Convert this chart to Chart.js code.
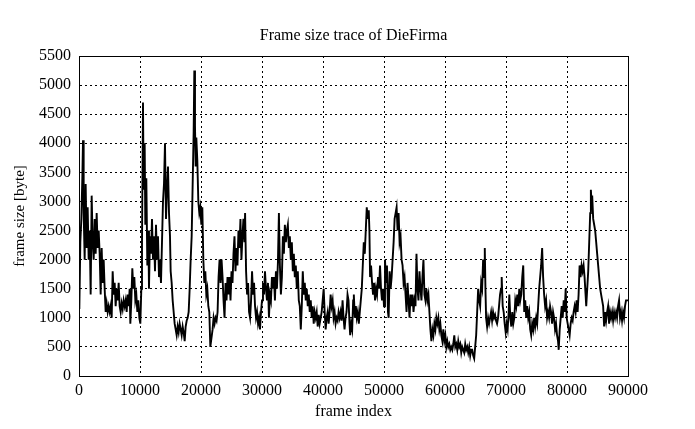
<!DOCTYPE html>
<html>
<head>
<meta charset="utf-8">
<title>Frame size trace of DieFirma</title>
<script src="https://cdn.jsdelivr.net/npm/chart.js@4/dist/chart.umd.min.js"></script>
<style>
  html, body { margin: 0; padding: 0; background: #fff; }
  #traceChart { display: block; }
</style>
</head>
<body>
<canvas id="traceChart" width="695" height="429"></canvas>
<script>
// values (frame index / frame size in byte)
const frameIndex = [
  0, 55, 219, 383, 546, 656, 765, 929, 1093, 1257, 1421, 1585, 1749, 1912, 2076, 2240, 2404, 2568, 2732, 2896,
  3060, 3224, 3388, 3552, 3716, 3879, 4043, 4207, 4371, 4535, 4699, 4863, 5027, 5191, 5355, 5519, 5683, 5847, 6010, 6174,
  6338, 6502, 6666, 6830, 6994, 7158, 7322, 7486, 7650, 7814, 7977, 8141, 8305, 8415, 8579, 8742, 8906, 9070, 9234, 9398,
  9562, 9726, 9890, 10054, 10218, 10327, 10491, 10600, 10764, 10873, 11037, 11201, 11365, 11474, 11638, 11802, 11966, 12130, 12294, 12458,
  12622, 12786, 12950, 13114, 13278, 13441, 13605, 13769, 13933, 14097, 14261, 14425, 14589, 14753, 14917, 15026, 15190, 15354, 15518, 15682,
  15846, 16010, 16173, 16337, 16501, 16665, 16829, 16993, 17157, 17321, 17485, 17649, 17813, 17977, 18141, 18305, 18469, 18633, 18797, 18906,
  19015, 19124, 19233, 19397, 19561, 19725, 19889, 20053, 20217, 20381, 20545, 20708, 20872, 21036, 21200, 21364, 21528, 21902, 22065, 22228,
  22391, 22555, 22718, 22881, 23044, 23207, 23370, 23533, 23696, 23859, 24022, 24185, 24348, 24511, 24674, 24837, 25000, 25163, 25326, 25489,
  25652, 25815, 25978, 26141, 26304, 26467, 26630, 26793, 26957, 27120, 27228, 27391, 27554, 27717, 27880, 28043, 28207, 28370, 28533, 28696,
  28859, 29022, 29185, 29348, 29511, 29674, 29837, 30000, 30163, 30326, 30489, 30652, 30815, 30978, 31141, 31304, 31467, 31630, 31793, 31957,
  32120, 32283, 32446, 32609, 32772, 32935, 33098, 33261, 33424, 33587, 33750, 33913, 34076, 34239, 34402, 34565, 34728, 34891, 35054, 35217,
  35380, 35543, 35707, 35870, 36033, 36196, 36359, 36522, 36685, 36848, 37011, 37174, 37337, 37500, 37663, 37826, 37989, 38152, 38315, 38478,
  38641, 38804, 38967, 39130, 39293, 39457, 39620, 39783, 39946, 40109, 40272, 40435, 40598, 40761, 40924, 41087, 41250, 41413, 41576, 41739,
  41902, 42065, 42228, 42391, 42554, 42717, 42880, 43043, 43207, 43370, 43533, 43696, 43859, 44022, 44185, 44348, 44456, 44619, 44783, 44946,
  45054, 45217, 45380, 45543, 45707, 45870, 46033, 46196, 46359, 46522, 46685, 46848, 47011, 47174, 47337, 47500, 47609, 47717, 47880, 48043,
  48207, 48370, 48533, 48696, 48859, 49022, 49185, 49348, 49511, 49674, 49837, 50000, 50163, 50326, 50489, 50652, 50761, 50924, 51087, 51250,
  51413, 51576, 51739, 51902, 52065, 52228, 52391, 52554, 52717, 52880, 53043, 53207, 53370, 53533, 53696, 53859, 54022, 54185, 54348, 54511,
  54674, 54837, 55000, 55163, 55326, 55489, 55652, 55815, 55978, 56141, 56304, 56467, 56630, 56793, 56957, 57120, 57283, 57446, 57609, 57772,
  57935, 58098, 58261, 58424, 58587, 58750, 58913, 59076, 59239, 59402, 59565, 59728, 59891, 60054, 60217, 60380, 60543, 60707, 60870, 61033,
  61196, 61359, 61522, 61685, 61848, 62011, 62174, 62337, 62500, 62663, 62826, 62989, 63152, 63315, 63478, 63641, 63804, 63967, 64130, 64293,
  64456, 64620, 64783, 64946, 65109, 65272, 65435, 65598, 65761, 65924, 66087, 66250, 66413, 66522, 66630, 66739, 66902, 67065, 67228, 67391,
  67554, 67717, 67880, 68043, 68207, 68370, 68533, 68696, 68859, 69022, 69185, 69293, 69457, 69620, 69783, 69946, 70109, 70272, 70435, 70543,
  70707, 70870, 71033, 71196, 71359, 71522, 71685, 71848, 72011, 72174, 72337, 72500, 72663, 72826, 72989, 73152, 73315, 73478, 73641, 73804,
  73967, 74130, 74293, 74457, 74620, 74783, 74946, 75109, 75272, 75435, 75598, 75761, 75924, 76087, 76250, 76413, 76576, 76739, 76902, 77065,
  77228, 77391, 77554, 77717, 77880, 78043, 78207, 78370, 78533, 78641, 78804, 78967, 79130, 79293, 79457, 79620, 79783, 79946, 80109, 80272,
  80435, 80598, 80761, 80924, 81087, 81250, 81413, 81576, 81739, 81902, 82065, 82228, 82391, 82554, 82717, 82880, 83043, 83152, 83315, 83478,
  83641, 83804, 83913, 84022, 84130, 84293, 84457, 84620, 84783, 84946, 85109, 85272, 85435, 85598, 85761, 85924, 86087, 86250, 86413, 86576,
  86739, 86902, 87065, 87228, 87391, 87554, 87717, 87880, 88043, 88207, 88370, 88533, 88696, 88859, 89022, 89185, 89348, 89511, 89674, 90000
];

const frameSize = [
  1700, 1150, 2300, 2700, 3400, 4050, 2800, 2000, 3300, 2200, 2900, 2000, 2500, 1400, 3100, 2300, 2000, 2700, 2100, 2800,
  2200, 2500, 2100, 1400, 2200, 1600, 2000, 1500, 1100, 1250, 1100, 1200, 1100, 1200, 1000, 1800, 1400, 1600, 1200, 1500,
  1300, 1600, 1200, 1100, 1250, 1150, 1300, 1200, 1300, 1100, 1400, 1200, 1500, 900, 1300, 1850, 1500, 1700, 1300, 1400,
  1100, 1300, 1000, 900, 1500, 2300, 4700, 3200, 4000, 2600, 3400, 1900, 2500, 1500, 2400, 2100, 2700, 2000, 2400, 1800,
  2600, 2000, 2400, 1700, 2000, 1600, 2300, 3000, 3300, 4000, 2700, 3200, 3600, 2800, 2400, 1800, 1600, 1300, 1100, 900,
  800, 700, 850, 750, 900, 800, 700, 850, 750, 600, 850, 950, 1000, 1100, 1500, 2000, 2400, 3300, 4200, 5250,
  4300, 3600, 4100, 3700, 3000, 2800, 2900, 2600, 2900, 2000, 1600, 1800, 1400, 1500, 1200, 1100, 500, 800, 1000, 900,
  1000, 950, 1100, 1700, 2000, 1600, 2000, 1700, 1300, 1000, 1600, 1300, 1700, 1400, 1700, 1300, 1800, 1600, 2100, 2400,
  1800, 2200, 1900, 2500, 2200, 2700, 2000, 2400, 2700, 2300, 2800, 1800, 1400, 1600, 1100, 1000, 1300, 1800, 1400, 1600,
  1200, 1000, 1100, 900, 1000, 800, 1100, 1300, 1600, 1400, 1800, 1500, 1300, 1600, 1000, 1400, 1300, 1700, 1500, 1700,
  1300, 1800, 1500, 1950, 2800, 1900, 1400, 1700, 2400, 2100, 2600, 2300, 2500, 2600, 2200, 2400, 2000, 2300, 1800, 2100,
  1700, 1900, 1500, 1800, 1300, 1200, 800, 1200, 1800, 1400, 1600, 1300, 1500, 1200, 1400, 1100, 1300, 1000, 1200, 900,
  1100, 1000, 1100, 850, 1050, 900, 1000, 1100, 1300, 1500, 1100, 800, 1000, 1100, 900, 1100, 1400, 1200, 1300, 1000,
  1100, 900, 1000, 950, 1100, 1000, 1100, 950, 1300, 1000, 800, 1000, 1100, 1400, 1300, 900, 700, 900, 800, 1300,
  1400, 1000, 1200, 1000, 1100, 900, 1100, 1300, 1500, 1900, 2300, 2100, 2500, 2900, 2700, 2850, 2500, 1700, 1900, 1600,
  1400, 1600, 1300, 1500, 1400, 1700, 1500, 1900, 1500, 1300, 1500, 1200, 2000, 1600, 1900, 1100, 1000, 1800, 1500, 1700,
  2000, 2300, 2700, 2800, 2900, 2500, 2800, 2300, 2400, 2000, 1900, 1600, 1700, 1400, 1100, 1600, 1300, 1000, 1400, 1200,
  1400, 1100, 1300, 1200, 2100, 1500, 1300, 1800, 1500, 1300, 1700, 2000, 1400, 1300, 1500, 1300, 1400, 1100, 800, 600,
  800, 700, 900, 800, 1000, 900, 1000, 800, 900, 700, 600, 800, 600, 700, 500, 600, 500, 550, 450, 500,
  450, 550, 700, 500, 550, 450, 600, 500, 550, 400, 500, 450, 400, 550, 450, 500, 400, 500, 350, 450,
  450, 350, 300, 500, 700, 1100, 1500, 1300, 1200, 1600, 1500, 2000, 1700, 2200, 1500, 1000, 850, 1000, 900, 1000,
  1100, 950, 1100, 1000, 1050, 950, 900, 1000, 1200, 1400, 1500, 1700, 1200, 1100, 900, 750, 900, 800, 1100, 1400,
  1000, 850, 1100, 900, 1000, 1300, 1200, 1400, 1200, 1500, 1300, 1400, 1700, 1900, 1100, 1300, 1000, 1200, 1000, 1100,
  800, 700, 900, 800, 1000, 850, 1000, 900, 1200, 1500, 1700, 1900, 2200, 1700, 1400, 1200, 1300, 1000, 1100, 1000,
  1200, 1100, 900, 1100, 1000, 800, 900, 700, 600, 450, 800, 1000, 1200, 1000, 1300, 1100, 1500, 1000, 900, 800,
  700, 900, 1000, 950, 1100, 1200, 1100, 1300, 1100, 1400, 1900, 1700, 1900, 1800, 1900, 1700, 1400, 1200, 1500, 1800,
  2300, 2800, 3200, 3000, 3100, 2700, 2600, 2500, 2300, 2100, 1900, 1700, 1500, 1400, 1300, 1200, 850, 1100, 950, 1100,
  1200, 900, 1100, 1000, 1100, 950, 1100, 1000, 1100, 1000, 1200, 1300, 1000, 1100, 950, 1100, 1000, 1200, 1300, 1300
];

const xTicks = [0, 10000, 20000, 30000, 40000, 50000, 60000, 70000, 80000, 90000];
const yTicks = [0, 500, 1000, 1500, 2000, 2500, 3000, 3500, 4000, 4500, 5000, 5500];

const serif = '"Liberation Serif", "DejaVu Serif", serif';

const tracePoints = frameIndex.map((f, i) => ({ x: f, y: frameSize[i] }));

// gnuplot style title and closed frame around the plot area
const framePlugin = {
    id: 'frameBox',
    afterDraw(chart) {
        const { ctx, chartArea } = chart;
        ctx.save();
        ctx.strokeStyle = '#000';
        ctx.lineWidth = 1;
        ctx.setLineDash([]);
        ctx.strokeRect(chartArea.left + 0.5, chartArea.top + 0.5,
            chartArea.right - chartArea.left, chartArea.bottom - chartArea.top);
        ctx.fillStyle = '#000';
        ctx.font = '16px ' + serif;
        ctx.textAlign = 'center';
        ctx.textBaseline = 'middle';
        ctx.fillText('Frame size trace of DieFirma', (chartArea.left + chartArea.right) / 2, 36);
        ctx.restore();
    }
};

const config = {
    type: 'line',
    data: {
        datasets: [{
            label: 'frame size',
            data: tracePoints,
            borderColor: '#000',
            borderWidth: 1.9,
            pointRadius: 0,
            tension: 0,
            fill: false
        }]
    },
    options: {
        responsive: false,
        animation: false,
        layout: { padding: { top: 56, right: 67, left: 0, bottom: 0 } },
        plugins: {
            legend: { display: false },
            tooltip: { enabled: false }
        },
        scales: {
            x: {
                type: 'linear',
                min: 0,
                max: 90000,
                afterBuildTicks: (scale) => { scale.ticks = xTicks.map(v => ({ value: v })); },
                afterFit: (scale) => { scale.height = 53; },
                grid: { color: '#000', lineWidth: 1, drawTicks: false },
                border: { display: true, color: '#000', width: 1, dash: [2, 3] },
                ticks: { color: '#000', font: { family: serif, size: 16 }, padding: 5, maxRotation: 0,
                         callback: (v) => String(v) },
                title: { display: true, text: 'frame index', color: '#000', font: { family: serif, size: 16 }, padding: { top: 0, bottom: 8 } }
            },
            y: {
                min: 0,
                max: 5500,
                afterBuildTicks: (scale) => { scale.ticks = yTicks.map(v => ({ value: v })); },
                afterFit: (scale) => { scale.width = 79; },
                grid: { color: '#000', lineWidth: 1, drawTicks: false },
                border: { display: true, color: '#000', width: 1, dash: [2, 3] },
                ticks: { color: '#000', font: { family: serif, size: 16 }, padding: 8,
                         callback: (v) => String(v) },
                title: { display: true, text: 'frame size [byte]', color: '#000', font: { family: serif, size: 15 }, padding: { top: 11, bottom: 0 } }
            }
        }
    },
    plugins: [framePlugin]
};

const traceChart = new Chart(document.getElementById('traceChart'), config);
</script>
</body>
</html>
